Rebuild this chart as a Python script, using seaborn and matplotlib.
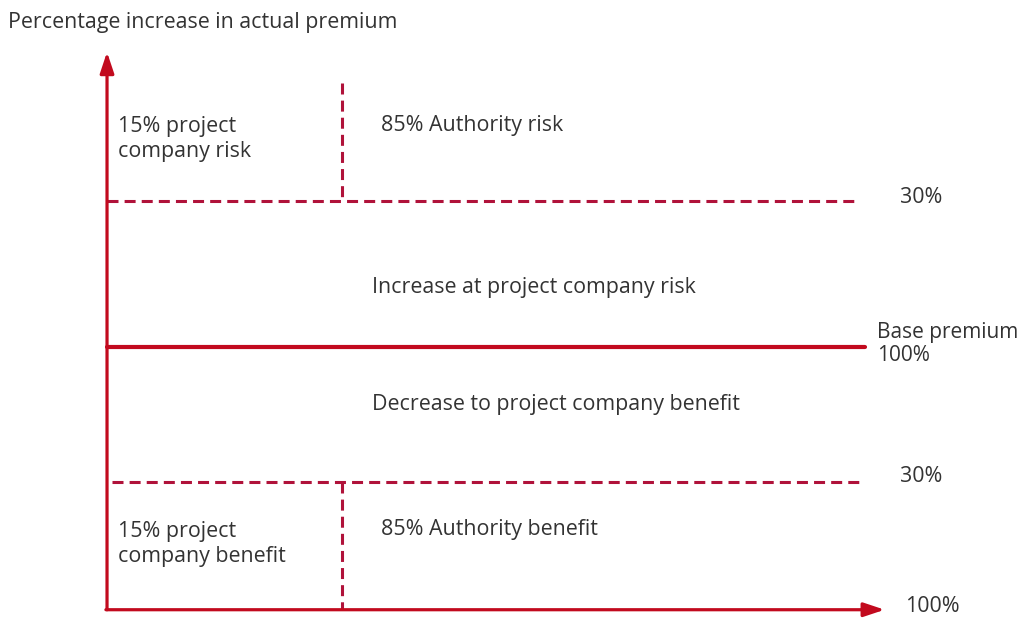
"""Premium risk-sharing diagram: project company vs Authority."""

import matplotlib

matplotlib.use("Agg")
import matplotlib.pyplot as plt
import pandas as pd
import seaborn as sns

# diagram levels (y: % change from base premium, x: share of axis length)
BASE = 0.0
UPPER_BAND = 30.0
LOWER_BAND = -27.7
FLOOR = -54.0
Y_TOP = 60.6
SPLIT_X = 31.0
SPLIT_TOP = 54.2

upper_dash_x = [0.0, 98.7]
lower_dash_x = [0.7, 99.6]
base_x = [0.0, 100.0]
x_axis_end = 102.6

side_labels = ["30%", "Base premium\n100%", "30%", "100%"]
band_labels = ["Increase at project company risk", "Decrease to project company benefit"]
corner_labels = ["15% project\ncompany risk", "85% Authority risk",
                 "15% project\ncompany benefit", "85% Authority benefit"]
y_title = "Percentage increase in actual premium"

RED = "#c20a1e"
DASH_RED = "#b0123a"
TEXT = "#333333"


def segment(x, y):
    return pd.DataFrame({"x": x, "y": y})


def main() -> None:
    sns.set_theme(style="white")
    plt.rcParams["font.family"] = ["Open Sans", "DejaVu Sans"]

    fig = plt.figure(figsize=(10.24, 6.18), dpi=100)
    ax = fig.add_axes([0, 0, 1, 1])
    ax.set_xlim(-14.12, 120.98)
    ax.set_ylim(-55.7, 71.3)
    ax.axis("off")

    dash = dict(color=DASH_RED, linewidth=2.2, dashes=(3.6, 2.0), sort=False, ax=ax)

    # base premium
    sns.lineplot(data=segment(base_x, [BASE, BASE]), x="x", y="y",
                 color=RED, linewidth=3.0, ax=ax)
    # 30% bands
    sns.lineplot(data=segment(upper_dash_x, [UPPER_BAND] * 2), x="x", y="y", **dash)
    sns.lineplot(data=segment(lower_dash_x, [LOWER_BAND] * 2), x="x", y="y", **dash)
    # 15/85 splits, drawn top-down
    sns.lineplot(data=segment([SPLIT_X] * 2, [SPLIT_TOP, UPPER_BAND]), x="x", y="y",
                 orient="y", **dash)
    sns.lineplot(data=segment([SPLIT_X] * 2, [LOWER_BAND, FLOOR]), x="x", y="y",
                 orient="y", **dash)

    arrow = dict(arrowstyle="-|>,head_length=0.9,head_width=0.3",
                 color=RED, lw=2.3, shrinkA=0, shrinkB=0, mutation_scale=14)
    ax.annotate("", xy=(0, Y_TOP), xytext=(0, FLOOR), arrowprops=arrow)
    ax.annotate("", xy=(x_axis_end, FLOOR), xytext=(-0.15, FLOOR), arrowprops=arrow)

    fs = 15.4
    ax.text(-13.1, 66.6, y_title, fontsize=fs, color=TEXT, va="center")

    ax.text(1.45, 42.8, corner_labels[0], fontsize=fs, color=TEXT, va="center",
            linespacing=1.25)
    ax.text(36.1, 45.6, corner_labels[1], fontsize=fs, color=TEXT, va="center")
    ax.text(1.45, -40.4, corner_labels[2], fontsize=fs, color=TEXT, va="center",
            linespacing=1.25)
    ax.text(36.1, -37.6, corner_labels[3], fontsize=fs, color=TEXT, va="center")

    ax.text(34.9, 12.3, band_labels[0], fontsize=fs, color=TEXT, va="center")
    ax.text(34.9, -11.9, band_labels[1], fontsize=fs, color=TEXT, va="center")

    ax.text(104.6, 30.8, side_labels[0], fontsize=fs, color=TEXT, va="center")
    ax.text(101.6, 0.6, side_labels[1], fontsize=15.0, color=TEXT, va="center",
            linespacing=1.12)
    ax.text(104.6, -26.7, side_labels[2], fontsize=fs, color=TEXT, va="center")
    ax.text(105.3, -53.3, side_labels[3], fontsize=fs, color=TEXT, va="center")

    fig.savefig("out.png", dpi=100)
    plt.close(fig)


if __name__ == "__main__":
    main()
